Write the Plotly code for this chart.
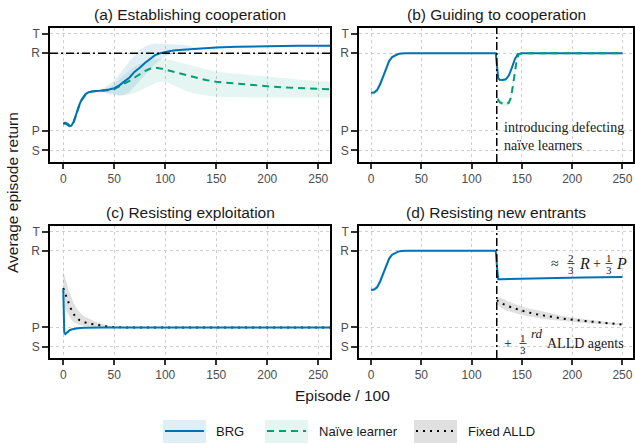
import plotly.graph_objects as go

# ---------------- data ----------------
# payoff levels used as y tick positions
payoff_labels = ["S", "P", "R", "T"]
payoff_values = [0, 1, 5, 6]
R_VAL = 5
x_ticks = [0, 50, 100, 150, 200, 250]
entry_episode = 125

# (a) Establishing cooperation
a_ep = [0, 2, 4, 6, 8, 10, 12, 14, 16, 18, 20, 22, 25, 28, 32, 36, 40, 45, 50, 55, 60, 65, 70, 75,
        80, 85, 90, 95, 100, 105, 110, 120, 130, 140, 150, 170, 200, 230, 262]
a_brg = [1.38, 1.40, 1.32, 1.25, 1.27, 1.45, 1.75, 2.10, 2.38, 2.60, 2.78, 2.90, 3.00, 3.04, 3.06, 3.07,
         3.08, 3.13, 3.20, 3.35, 3.55, 3.75, 4.05, 4.25, 4.50, 4.72, 4.90, 5.00, 5.07, 5.12, 5.16, 5.20,
         5.24, 5.27, 5.29, 5.33, 5.36, 5.38, 5.38]
a_brg_lo = [1.28, 1.30, 1.24, 1.18, 1.20, 1.36, 1.64, 1.98, 2.26, 2.48, 2.68, 2.80, 2.92, 2.97, 2.99, 2.99,
            2.98, 2.90, 2.85, 2.80, 2.85, 3.00, 3.30, 3.60, 3.90, 4.20, 4.45, 4.65, 4.85, 4.95, 5.05, 5.12,
            5.20, 5.24, 5.26, 5.30, 5.33, 5.35, 5.35]
a_brg_hi = [1.48, 1.50, 1.42, 1.34, 1.36, 1.55, 1.86, 2.22, 2.50, 2.72, 2.88, 2.99, 3.08, 3.11, 3.13, 3.15,
            3.20, 3.40, 3.60, 3.90, 4.25, 4.60, 4.90, 5.15, 5.35, 5.45, 5.50, 5.50, 5.50, 5.45, 5.45, 5.42,
            5.30, 5.30, 5.32, 5.36, 5.39, 5.41, 5.41]

a_naive_ep = [0, 2, 4, 6, 8, 10, 12, 14, 16, 18, 20, 22, 25, 28, 32, 36, 40, 45, 50, 55, 60, 65, 70, 75,
              80, 85, 90, 95, 100, 110, 120, 130, 140, 150, 165, 180, 200, 220, 240, 262]
a_naive = [1.37, 1.42, 1.38, 1.30, 1.30, 1.42, 1.72, 2.08, 2.36, 2.58, 2.76, 2.88, 2.98, 3.03, 3.05, 3.06,
           3.07, 3.10, 3.15, 3.28, 3.43, 3.58, 3.75, 3.92, 4.08, 4.20, 4.26, 4.22, 4.15, 4.02, 3.87, 3.72,
           3.62, 3.53, 3.45, 3.38, 3.30, 3.23, 3.18, 3.14]
a_naive_lo = [1.30, 1.34, 1.30, 1.22, 1.22, 1.34, 1.62, 1.98, 2.26, 2.48, 2.68, 2.80, 2.91, 2.97, 2.99, 3.00,
              3.00, 2.95, 2.90, 2.86, 2.85, 2.88, 2.95, 3.05, 3.20, 3.33, 3.45, 3.52, 3.55, 3.30, 3.05, 2.90,
              2.82, 2.76, 2.74, 2.72, 2.72, 2.72, 2.72, 2.72]
a_naive_hi = [1.45, 1.50, 1.46, 1.38, 1.38, 1.50, 1.82, 2.18, 2.46, 2.68, 2.85, 2.96, 3.05, 3.09, 3.11, 3.12,
              3.12, 3.25, 3.40, 3.65, 3.90, 4.10, 4.30, 4.45, 4.55, 4.64, 4.70, 4.72, 4.72, 4.58, 4.45, 4.30,
              4.17, 4.05, 3.97, 3.90, 3.80, 3.70, 3.60, 3.52]

# (b) Guiding to cooperation
b_ep = [0, 3, 6, 9, 12, 15, 18, 21, 24, 27, 30, 35, 60, 100, 124, 125.5, 126.5, 128, 131, 134, 137,
        140, 143, 146, 150, 200, 250]
b_brg = [2.96, 2.98, 3.10, 3.40, 3.80, 4.25, 4.60, 4.80, 4.90, 4.96, 4.99, 5.00, 5.00, 5.00, 5.00, 4.20,
         3.72, 3.63, 3.62, 3.66, 3.85, 4.25, 4.70, 4.95, 5.00, 5.00, 5.00]
b_brg_sd = [0.08, 0.10, 0.14, 0.18, 0.20, 0.18, 0.14, 0.08, 0.05, 0.03, 0.02, 0.02, 0.02, 0.02, 0.02, 0.05,
            0.05, 0.05, 0.05, 0.05, 0.07, 0.10, 0.10, 0.06, 0.02, 0.02, 0.02]
b_naive_ep = [125.8, 128, 131, 134, 137, 139, 141, 143, 145, 147, 150, 200, 250]
b_naive = [2.65, 2.48, 2.40, 2.38, 2.45, 2.70, 3.30, 4.10, 4.70, 4.95, 5.00, 5.00, 5.00]
b_naive_sd = [0.10, 0.12, 0.12, 0.12, 0.14, 0.20, 0.25, 0.22, 0.12, 0.05, 0.02, 0.02, 0.02]

# (c) Resisting exploitation
c_alld_ep = [0, 2, 4, 6, 8, 10, 13, 16, 20, 25, 30, 35, 40, 45, 50, 60, 262]
c_alld = [3.05, 2.75, 2.45, 2.15, 1.90, 1.70, 1.50, 1.38, 1.28, 1.20, 1.15, 1.10, 1.06, 1.03, 1.01, 1.00, 1.00]
c_alld_lo = [2.15, 1.95, 1.70, 1.50, 1.38, 1.28, 1.20, 1.13, 1.08, 1.04, 1.02, 1.00, 1.00, 1.00, 1.00, 1.00, 1.00]
c_alld_hi = [3.95, 3.60, 3.20, 2.85, 2.55, 2.30, 2.00, 1.80, 1.60, 1.45, 1.33, 1.24, 1.14, 1.07, 1.02, 1.00, 1.00]
c_brg_ep = [0, 1, 2, 4, 6, 8, 10, 14, 20, 30, 40, 262]
c_brg = [3.00, 0.72, 0.65, 0.75, 0.84, 0.89, 0.92, 0.96, 0.98, 0.995, 1.00, 1.00]
c_brg_sd = [0.05, 0.06, 0.06, 0.05, 0.04, 0.04, 0.03, 0.02, 0.02, 0.01, 0.01, 0.01]

# (d) Resisting new entrants
d_ep = [0, 3, 6, 9, 12, 15, 18, 21, 24, 27, 30, 35, 60, 100, 124, 125.5, 126.5, 130, 150, 180, 210, 250]
d_brg = [2.96, 2.98, 3.10, 3.40, 3.80, 4.25, 4.60, 4.80, 4.90, 4.96, 4.99, 5.00, 5.00, 5.00, 5.00, 4.00,
         3.52, 3.52, 3.55, 3.58, 3.61, 3.63]
d_brg_sd = [0.08, 0.10, 0.14, 0.18, 0.20, 0.18, 0.14, 0.08, 0.05, 0.03, 0.02, 0.02, 0.02, 0.02, 0.02, 0.04,
            0.03, 0.03, 0.02, 0.02, 0.02, 0.02]
d_alld_ep = [125, 127, 130, 135, 140, 147, 155, 165, 180, 195, 213, 230, 250]
d_alld = [2.42, 2.35, 2.26, 2.13, 2.03, 1.92, 1.80, 1.68, 1.55, 1.43, 1.33, 1.24, 1.15]
d_alld_sd = [0.20, 0.24, 0.26, 0.26, 0.25, 0.23, 0.21, 0.19, 0.17, 0.13, 0.10, 0.07, 0.04]

# ---------------- styles ----------------
BLUE = "#0072B2"
GREEN = "#009E73"
BLACK = "#000000"
BLUE_FILL = "rgba(0,114,178,0.12)"
GREEN_FILL = "rgba(0,158,115,0.10)"
GRAY_FILL = "rgba(0,0,0,0.12)"
SANS = "Liberation Sans"
SERIF = "Liberation Serif"
W, H = 635, 444


def px(x):
    return x / W


def py(y):
    return 1 - y / H


fig = go.Figure()


def band(ax, xs, lo, hi, color):
    xref, yref = ax
    fig.add_trace(go.Scatter(x=list(xs) + list(xs)[::-1], y=list(lo) + list(hi)[::-1],
                             fill="toself", fillcolor=color, line=dict(width=0),
                             mode="lines", hoverinfo="skip", showlegend=False,
                             xaxis=xref, yaxis=yref))


def line(ax, xs, ys, color, dash="solid", width=2):
    xref, yref = ax
    fig.add_trace(go.Scatter(x=xs, y=ys, mode="lines",
                             line=dict(color=color, width=width, dash=dash),
                             showlegend=False, xaxis=xref, yaxis=yref))


DASH_NAIVE = "7px,5px"
DOT_ALLD = "2px,5px"

# panel a
A = ("x", "y")
band(A, a_naive_ep, a_naive_lo, a_naive_hi, GREEN_FILL)
band(A, a_ep, a_brg_lo, a_brg_hi, BLUE_FILL)
line(A, a_naive_ep, a_naive, GREEN, DASH_NAIVE)
line(A, a_ep, a_brg, BLUE)

# panel b
B = ("x2", "y2")
band(B, b_ep, [v - s for v, s in zip(b_brg, b_brg_sd)], [v + s for v, s in zip(b_brg, b_brg_sd)], BLUE_FILL)
band(B, b_naive_ep, [v - s for v, s in zip(b_naive, b_naive_sd)], [v + s for v, s in zip(b_naive, b_naive_sd)], GREEN_FILL)
line(B, b_ep, b_brg, BLUE)
line(B, b_naive_ep, b_naive, GREEN, DASH_NAIVE)

# panel c
C = ("x3", "y3")
band(C, c_alld_ep, c_alld_lo, c_alld_hi, GRAY_FILL)
band(C, c_brg_ep, [v - s for v, s in zip(c_brg, c_brg_sd)], [v + s for v, s in zip(c_brg, c_brg_sd)], BLUE_FILL)
line(C, c_alld_ep, c_alld, BLACK, DOT_ALLD)
line(C, c_brg_ep, c_brg, BLUE)

# panel d
D = ("x4", "y4")
band(D, d_ep, [v - s for v, s in zip(d_brg, d_brg_sd)], [v + s for v, s in zip(d_brg, d_brg_sd)], BLUE_FILL)
band(D, d_alld_ep, [v - s for v, s in zip(d_alld, d_alld_sd)], [v + s for v, s in zip(d_alld, d_alld_sd)], GRAY_FILL)
line(D, d_ep, d_brg, BLUE)
line(D, d_alld_ep, d_alld, BLACK, DOT_ALLD)

# ---------------- axes ----------------
x_dom_left = [px(50), px(330)]
x_dom_right = [px(359), px(633)]
y_dom_top = [py(162), py(28)]
y_dom_bot = [py(358), py(226)]

axis_common = dict(showline=True, mirror=True, linecolor="black", linewidth=1.5,
                   showgrid=True, gridcolor="#cfcfcf", griddash="dot", gridwidth=1,
                   zeroline=False, ticks="outside", ticklen=5, tickwidth=2, tickcolor="#333333",
                   tickfont=dict(family=SANS, size=12, color="#4d4d4d"))

panels = [("", "", x_dom_left, y_dom_top, [-13, 261.5]),
          ("2", "2", x_dom_right, y_dom_top, [-12, 260.5]),
          ("3", "3", x_dom_left, y_dom_bot, [-13, 261.5]),
          ("4", "4", x_dom_right, y_dom_bot, [-12, 260.5])]
for xs, ys, xd, yd, xr in panels:
    fig.layout["xaxis" + xs] = dict(axis_common, domain=xd, range=xr, tickvals=x_ticks,
                                     anchor="y" + ys)
    fig.layout["yaxis" + ys] = dict(axis_common, domain=yd, range=[-0.6, 6.3], tickvals=payoff_values,
                                     ticktext=payoff_labels, anchor="x" + xs, ticklen=6)

# ---------------- reference lines ----------------
DASHDOT = "8px,3px,2px,3px"
shapes = [
    dict(type="line", xref="x domain", yref="y", x0=0, x1=1, y0=R_VAL, y1=R_VAL,
         line=dict(color="black", width=1.5, dash=DASHDOT)),
    dict(type="line", xref="x2", yref="y2 domain", x0=entry_episode, x1=entry_episode, y0=0, y1=1,
         line=dict(color="black", width=1.5, dash=DASHDOT)),
    dict(type="line", xref="x4", yref="y4 domain", x0=entry_episode, x1=entry_episode, y0=0, y1=1,
         line=dict(color="black", width=1.5, dash=DASHDOT)),
]

annotations = []
titles = [("(a) Establishing cooperation", 190, 14), ("(b) Guiding to cooperation", 496, 14),
          ("(c) Resisting exploitation", 190, 212), ("(d) Resisting new entrants", 496, 212)]
for t, x, y in titles:
    annotations.append(dict(text=t, x=px(x), y=py(y), xref="paper", yref="paper", showarrow=False,
                            xanchor="center", yanchor="middle",
                            font=dict(family=SANS, size=15.5, color="#1a1a1a")))

annotations.append(dict(text="Average episode return", x=px(12), y=py(193), xref="paper", yref="paper",
                        showarrow=False, textangle=-90, xanchor="center", yanchor="middle",
                        font=dict(family=SANS, size=15.5, color="#1a1a1a")))
annotations.append(dict(text="Episode / 100", x=px(343), y=py(395), xref="paper", yref="paper",
                        showarrow=False, xanchor="center", yanchor="middle",
                        font=dict(family=SANS, size=15.5, color="#1a1a1a")))

# panel b annotation
annotations.append(dict(text="introducing defecting<br>naïve learners", x=px(502), y=py(136),
                        xref="paper", yref="paper", showarrow=False, xanchor="left", yanchor="middle",
                        align="left", font=dict(family=SERIF, size=14, color="#1a1a1a")))


def txt(t, x, y, size=13, italic=False, anchor="center"):
    s = f"<i>{t}</i>" if italic else t
    annotations.append(dict(text=s, x=px(x), y=py(y), xref="paper", yref="paper", showarrow=False,
                            xanchor=anchor, yanchor="middle",
                            font=dict(family=SERIF, size=size, color="#1a1a1a")))


def frac(num, den, x, ybar):
    txt(num, x, ybar - 6, size=11)
    txt(den, x, ybar + 6, size=11)
    shapes.append(dict(type="line", xref="paper", yref="paper", x0=px(x - 3.5), x1=px(x + 3.5),
                       y0=py(ybar), y1=py(ybar), line=dict(color="#1a1a1a", width=0.8)))


# panel d annotations
txt("≈", 555, 263, size=14)
frac("2", "3", 571, 263.5)
txt("R", 584, 263, size=16, italic=True)
txt("+", 597, 263, size=14)
frac("1", "3", 609, 263.5)
txt("P", 621, 263, size=16, italic=True)

txt("+", 508, 343, size=14)
frac("1", "3", 523, 343.5)
txt("rd", 537, 333, size=13, italic=True)
txt("ALLD agents", 545, 343, size=14, anchor="left")

# ---------------- manual legend ----------------
legend_items = [("BRG", BLUE, "solid", BLUE_FILL, 163, 214),
                ("Naïve learner", GREEN, DASH_NAIVE, GREEN_FILL, 265, 317),
                ("Fixed ALLD", BLACK, DOT_ALLD, GRAY_FILL, 414, 466)]
for name, col, dash, fill, x0, xt in legend_items:
    shapes.append(dict(type="rect", xref="paper", yref="paper", x0=px(x0), x1=px(x0 + 43),
                       y0=py(443), y1=py(420), fillcolor=fill, line=dict(width=0)))
    shapes.append(dict(type="line", xref="paper", yref="paper", x0=px(x0 + 2), x1=px(x0 + 41),
                       y0=py(431), y1=py(431), line=dict(color=col, width=2, dash=dash)))
    annotations.append(dict(text=name, x=px(xt), y=py(431), xref="paper", yref="paper", showarrow=False,
                            xanchor="left", yanchor="middle",
                            font=dict(family=SANS, size=13, color="#1a1a1a")))

fig.update_layout(width=W, height=H, margin=dict(l=0, r=0, t=0, b=0),
                  plot_bgcolor="white", paper_bgcolor="white", showlegend=False,
                  shapes=shapes, annotations=annotations)

# remove the default 8px page margin so the figure fills the window exactly
fig.write_html("out.html", config={"displayModeBar": False},
               post_script="document.body.style.margin='0px';document.body.style.overflow='hidden';")
